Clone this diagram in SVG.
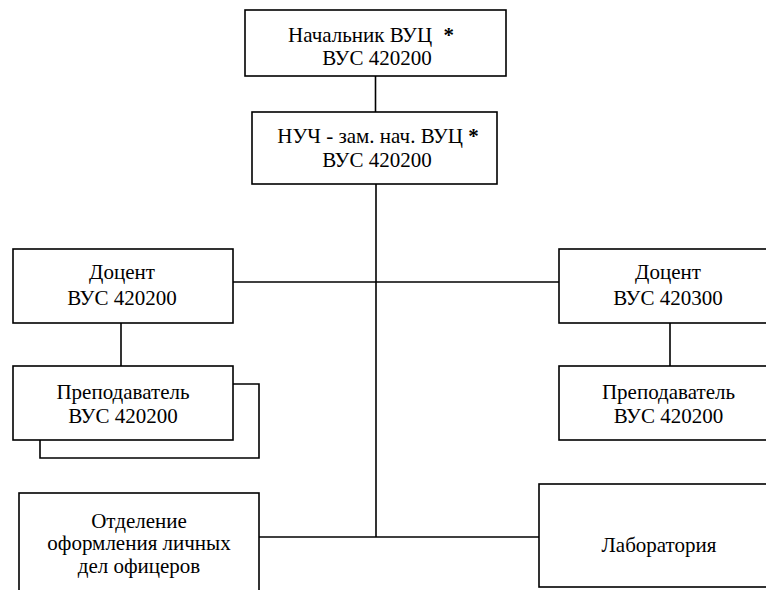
<svg xmlns="http://www.w3.org/2000/svg" width="766" height="590" viewBox="0 0 766 590">
<style>
.box{fill:#fff;stroke:#000;stroke-width:1.6}
.ln{fill:none;stroke:#000;stroke-width:1.6}
.t{font-family:'Liberation Serif','DejaVu Serif','Noto Serif',Tinos,'Times New Roman',Times,serif;font-size:21px;fill:#000;text-anchor:middle}
.b{font-weight:bold}
</style>
<rect width="766" height="590" fill="#fff"/>
<g id="connectors">
<line class="ln" x1="375.5" y1="76" x2="375.5" y2="112"/>
<line class="ln" x1="376" y1="184" x2="376" y2="537"/>
<line class="ln" x1="233" y1="282" x2="559" y2="282"/>
<line class="ln" x1="121" y1="323" x2="121" y2="366"/>
<line class="ln" x1="670" y1="323" x2="670" y2="366"/>
<line class="ln" x1="259" y1="537" x2="539" y2="537"/>
</g>
<g id="nachalnik">
<rect class="box" x="245" y="10" width="261" height="66"/>
<text class="t" x="371" y="41.5">Начальник ВУЦ <tspan dx="6" class="b">*</tspan></text>
<text class="t" x="377" y="65">ВУС 420200</text>
</g>
<g id="nuch">
<rect class="box" x="252" y="112" width="245" height="72"/>
<text class="t" x="378" y="142.5">НУЧ - зам. нач. ВУЦ <tspan class="b">*</tspan></text>
<text class="t" x="377" y="166.5">ВУС 420200</text>
</g>
<g id="docent-left">
<rect class="box" x="13" y="249" width="220" height="74"/>
<text class="t" x="122" y="279">Доцент</text>
<text class="t" x="122" y="305">ВУС 420200</text>
</g>
<g id="prepod-left">
<polyline class="ln" points="233,384 259,384 259,458 40,458 40,440"/>
<rect class="box" x="13" y="366" width="220" height="74"/>
<text class="t" x="123" y="398.5">Преподаватель</text>
<text class="t" x="123" y="422.5">ВУС 420200</text>
</g>
<g id="docent-right">
<rect class="box" x="559" y="249" width="220" height="74"/>
<text class="t" x="668" y="279">Доцент</text>
<text class="t" x="668" y="305">ВУС 420300</text>
</g>
<g id="prepod-right">
<rect class="box" x="559" y="366" width="220" height="74"/>
<text class="t" x="668.5" y="398.5">Преподаватель</text>
<text class="t" x="668.5" y="422.5">ВУС 420200</text>
</g>
<g id="otdelenie">
<rect class="box" x="19" y="493" width="240" height="110"/>
<text class="t" x="139" y="527.5">Отделение</text>
<text class="t" x="139" y="550">оформления личных</text>
<text class="t" x="139" y="573">дел офицеров</text>
</g>
<g id="laboratoriya">
<rect class="box" x="539" y="484" width="240" height="103"/>
<text class="t" x="659" y="552">Лаборатория</text>
</g>
</svg>
